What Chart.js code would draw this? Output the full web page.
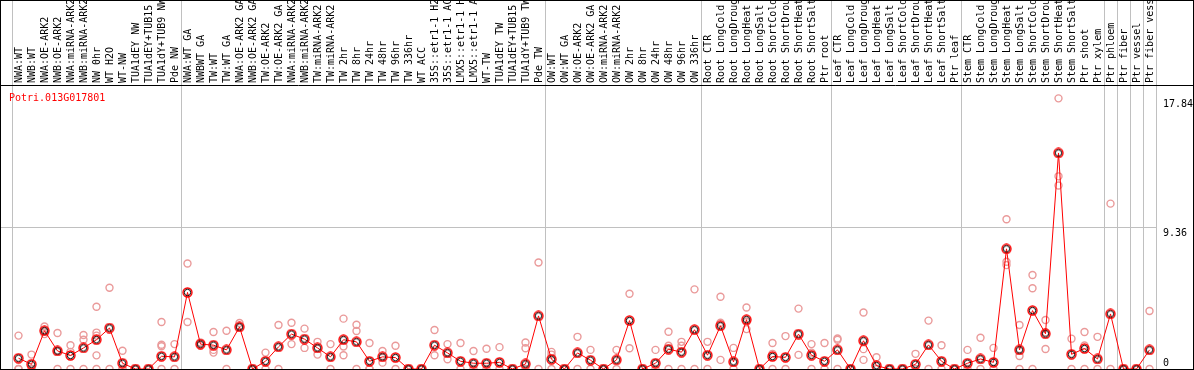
<!DOCTYPE html>
<html lang="en">
  <head>
    <meta charset="UTF-8" />
    <title>Potri.013G017801 expression</title>
    <script src="https://cdn.jsdelivr.net/npm/chart.js@4.4.1/dist/chart.umd.min.js"></script>
    <style>
      body { margin: 0; background: #fff; }
      canvas { display: block; }
    </style>
  </head>
  <body>
    <canvas id="chart" width="1194" height="370"></canvas>

    <script>
      const geneId = "Potri.013G017801";

      // Sample names, in plot order
      const sampleNames = [
        "NWA:WT", "NWB:WT", "NWA:OE-ARK2", "NWB:OE-ARK2", "NWA:miRNA-ARK2", "NWB:miRNA-ARK2",
        "NW 0hr", "WT H2O", "WT-NW", "TUA1dEY NW", "TUA1dEY+TUB15 NW", "TUA1dY+TUB9 NW", "Pde NW",
        "NWA:WT GA", "NWBWT GA", "TW:WT", "TW:WT GA", "NWA:OE-ARK2 GA", "NWB:OE-ARK2 GA",
        "TW:OE-ARK2", "TW:OE-ARK2 GA", "NWA:miRNA-ARK2", "NWB:miRNA-ARK2", "TW:miRNA-ARK2",
        "TW:miRNA-ARK2", "TW 2hr", "TW 8hr", "TW 24hr", "TW 48hr", "TW 96hr", "TW 336hr",
        "WT ACC", "35S::etr1-1 H2O", "35S::etr1-1 ACC", "LMX5::etr1-1 H2O", "LMX5::etr1-1 ACC",
        "WT-TW", "TUA1dEY TW", "TUA1dEY+TUB15 TW", "TUA1dY+TUB9 TW", "Pde TW",
        "OW:WT", "OW:WT GA", "OW:OE-ARK2", "OW:OE-ARK2 GA", "OW:miRNA-ARK2", "OW:miRNA-ARK2",
        "OW 2hr", "OW 8hr", "OW 24hr", "OW 48hr", "OW 96hr", "OW 336hr",
        "Root CTR", "Root LongCold", "Root LongDrought", "Root LongHeat", "Root LongSalt",
        "Root ShortCold", "Root ShortDrought", "Root ShortHeat", "Root ShortSalt", "Ptr root",
        "Leaf CTR", "Leaf LongCold", "Leaf LongDrought", "Leaf LongHeat", "Leaf LongSalt",
        "Leaf ShortCold", "Leaf ShortDrought", "Leaf ShortHeat", "Leaf ShortSalt", "Ptr leaf",
        "Stem CTR", "Stem LongCold", "Stem LongDrought", "Stem LongHeat", "Stem LongSalt",
        "Stem ShortCold", "Stem ShortDrought", "Stem ShortHeat", "Stem ShortSalt",
        "Ptr shoot", "Ptr xylem", "Ptr phloem", "Ptr fiber", "Ptr vessel", "Ptr fiber vessel",
      ];

      // first sample of each group (a grey separator is drawn before it)
      const groupStarts = [0, 13, 41, 53, 63, 73, 84, 85, 86, 87];

      // mean expression per sample
      const meanValues = [
        0.71, 0.31, 2.52, 1.19, 0.89, 1.39, 1.93, 2.7, 0.38, 0, 0, 0.84, 0.8,
        5.05, 1.64, 1.57, 1.26, 2.77, 0, 0.51, 1.46, 2.3, 1.97, 1.39, 0.8, 1.93, 1.79,
        0.51, 0.8, 0.75, 0, 0, 1.57, 1.06, 0.51, 0.38, 0.38, 0.44, 0, 0.33, 3.5,
        0.64, 0, 1.06, 0.58, 0, 0.6, 3.19, 0, 0.38, 1.31, 1.11, 2.59,
        0.91, 2.85, 0.47, 3.25, 0, 0.82, 0.77, 2.3, 0.91, 0.51,
        1.26, 0, 1.86, 0.22, 0, 0, 0.31, 1.59, 0.51, 0,
        0.38, 0.66, 0.44, 7.92, 1.26, 3.85, 2.32, 14.24, 0.97, 1.35, 0.66,
        3.63, 0, 0, 1.26,
      ];

      // individual replicates per sample
      const replicates = [
        [2.2, 0, 0], [0.95, 0, 0], [2.8, 2.5, 2.3], [2.37, 1.2, 0], [1.57, 1.13, 0],
        [2.24, 1.93, 0], [4.1, 2.4, 2.2, 0.9, 0], [5.36, 0], [1.2, 0, 0], [0, 0, 0],
        [0, 0, 0], [3.1, 1.6, 1.5, 0], [1.64, 0],
        [6.95, 3.1], [1.75, 1.57], [2.44, 1.26, 1.08], [2.52, 0], [3.03, 2.81], [0, 0],
        [1.08, 0], [2.9, 0], [3.05, 1.64], [2.66, 1.39], [1.79, 0.95], [1.64, 0],
        [3.32, 1.48, 0.91], [2.92, 2.5, 0], [1.71, 0, 0], [1.19, 0.42], [1.53, 0], [0, 0],
        [0, 0], [2.57, 0.91], [1.64, 0.64], [1.71, 0], [1.19, 0], [1.33, 0], [1.44, 0],
        [0, 0], [1.75, 1.37, 0], [7.02, 0],
        [1.13, 0.95, 0], [0, 0], [2.12, 0], [1.26, 0], [0, 0], [1.26, 0], [4.96, 1.37],
        [0, 0], [1.26, 0], [2.46, 1.53, 0], [1.79, 1.53, 0], [5.25, 0],
        [1.79, 0], [4.76, 3.05, 0.6], [1.39, 0], [4.05, 3.1, 2.63], [0, 0], [1.71, 1.0, 0],
        [2.17, 0], [3.98, 0.93], [1.64, 1.08, 0], [1.71, 0],
        [2.01, 1.93, 0], [0, 0], [3.72, 1.31, 0.6], [0.77, 0], [0, 0], [0, 0], [1.0, 0],
        [3.19, 0], [1.57, 0], [0, 0],
        [1.26, 0], [2.06, 0], [1.39, 0], [9.87, 7.07, 6.85], [2.9, 0.86, 0], [6.2, 5.32, 0],
        [3.23, 2.42, 1.32], [17.84, 12.7, 12.1], [2.0, 0], [2.44, 1.55, 0], [2.12, 0],
        [10.9, 0], [0, 0], [0, 0], [3.82, 0],
      ];

      const yMax = 18.72;
      const yTicks = [0, 9.36, 17.84];
      const gridValue = 9.36;

      const monoFont = { family: "'DejaVu Sans Mono', monospace", size: 10 };

      // mean marker: red ring with a black ring inside
      function meanMarker() {
        const c = document.createElement("canvas");
        c.width = 11;
        c.height = 11;
        const g = c.getContext("2d");
        g.lineWidth = 1.4;
        g.strokeStyle = "#ff0000";
        g.beginPath();
        g.arc(5.5, 5.5, 4.5, 0, Math.PI * 2);
        g.stroke();
        g.lineWidth = 1;
        g.strokeStyle = "#000";
        g.beginPath();
        g.arc(5.5, 5.5, 3.2, 0, Math.PI * 2);
        g.stroke();
        return c;
      }

      // one dataset per replicate slot
      const maxReps = Math.max(...replicates.map((r) => r.length));
      const repDatasets = [];
      for (let k = 0; k < maxReps; k++) {
        repDatasets.push({
          data: replicates.map((r) => (k < r.length ? r[k] : null)),
          showLine: false,
          pointStyle: "circle",
          pointRadius: 3.5,
          pointBorderWidth: 1.4,
          pointBorderColor: "#ea9a9a",
          pointBackgroundColor: "rgba(0,0,0,0)",
          clip: false,
        });
      }

      const framePlugin = {
        id: "frame",
        afterDraw(chart) {
          const { ctx, chartArea, scales } = chart;
          ctx.save();
          // grid line continues to the left border
          const yg = Math.round(scales.y.getPixelForValue(gridValue)) + 0.5;
          ctx.strokeStyle = "#c0c0c0";
          ctx.lineWidth = 1;
          ctx.beginPath();
          ctx.moveTo(1, yg);
          ctx.lineTo(chartArea.left, yg);
          ctx.stroke();
          // outer frame and label separator
          ctx.strokeStyle = "#000";
          ctx.strokeRect(0.5, 0.5, chart.width - 1, chart.height - 1);
          ctx.beginPath();
          ctx.moveTo(0, chartArea.top + 0.5);
          ctx.lineTo(chart.width, chartArea.top + 0.5);
          ctx.stroke();
          // gene id
          ctx.fillStyle = "#ff0000";
          ctx.font = "10px 'DejaVu Sans Mono'";
          ctx.textBaseline = "alphabetic";
          ctx.fillText(geneId, chartArea.left - 3, chartArea.top + 16);
          ctx.restore();
        },
      };

      new Chart(document.getElementById("chart"), {
        type: "line",
        data: {
          labels: sampleNames,
          datasets: [
            {
              data: meanValues,
              borderColor: "#ff0000",
              borderWidth: 1,
              tension: 0,
              pointStyle: meanMarker(),
              clip: false,
            },
            ...repDatasets,
          ],
        },
        options: {
          responsive: false,
          animation: false,
          layout: { autoPadding: false, padding: { left: 12, top: 0, right: 0, bottom: 1 } },
          plugins: {
            legend: { display: false },
            tooltip: { enabled: false },
          },
          scales: {
            x: {
              position: "top",
              offset: true,
              grid: {
                offset: true,
                lineWidth: 1,
                tickLength: 85,
                color: (c) =>
                  c.index === undefined || groupStarts.includes(c.index)
                    ? "#c0c0c0"
                    : "rgba(0,0,0,0)",
              },
              border: { display: false },
              ticks: {
                autoSkip: false,
                minRotation: 90,
                maxRotation: 90,
                padding: -83,
                labelOffset: 13,
                color: "#000",
                font: monoFont,
              },
              afterFit: (s) => {
                s.height = 85;
                s.paddingLeft = 0;
                s.paddingRight = 0;
              },
            },
            y: {
              position: "right",
              min: 0,
              max: yMax,
              afterBuildTicks: (s) => {
                s.ticks = yTicks.map((v) => ({ value: v }));
              },
              grid: {
                drawTicks: false,
                color: (c) =>
                  c.tick && c.tick.value === gridValue ? "#c0c0c0" : "rgba(0,0,0,0)",
              },
              border: { display: false },
              ticks: {
                padding: 7,
                color: "#000",
                font: monoFont,
                callback: (v) => (v === 0 ? ["0", ""] : ["", String(v)]),
              },
              afterFit: (s) => {
                s.width = 38;
                s.paddingTop = 0;
                s.paddingBottom = 0;
              },
            },
          },
        },
        plugins: [framePlugin],
      });
    </script>
  </body>
</html>
